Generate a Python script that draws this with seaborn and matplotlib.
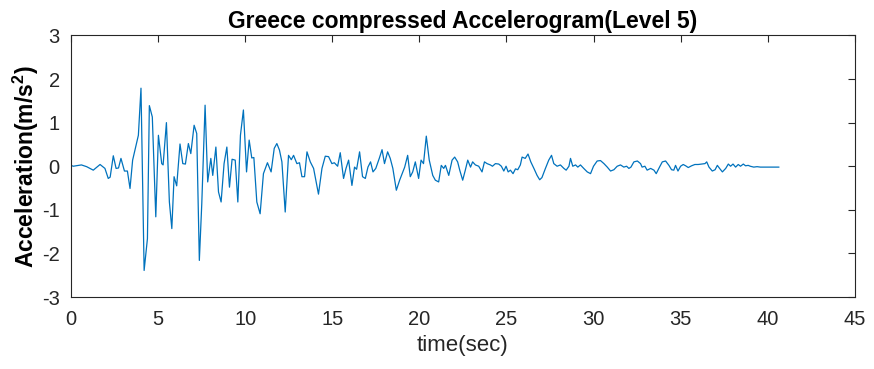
import matplotlib
matplotlib.use("Agg")
import matplotlib.pyplot as plt
import seaborn as sns
import pandas as pd

# time (s) and acceleration (m/s^2)
time_s = [0.0, 0.13, 0.6, 0.9, 1.28, 1.67, 1.95, 2.14, 2.25, 2.43, 2.59, 2.73, 2.87, 3.07, 3.24,
          3.39, 3.54, 3.74, 3.87, 4.02, 4.2, 4.39, 4.5, 4.67, 4.87, 5.02, 5.21, 5.29, 5.48, 5.65,
          5.79, 5.92, 6.07, 6.26, 6.42, 6.57, 6.74, 6.88, 7.07, 7.22, 7.37, 7.51, 7.70, 7.85, 8.03,
          8.14, 8.32, 8.47, 8.62, 8.79, 8.95, 9.1, 9.25, 9.43, 9.58, 9.73, 9.9, 10.08, 10.23, 10.38,
          10.5, 10.67, 10.86, 11.05, 11.28, 11.49, 11.67, 11.82, 11.97, 12.11, 12.3, 12.49, 12.65,
          12.78, 12.97, 13.12, 13.26, 13.41, 13.55, 13.74, 13.93, 14.21, 14.41, 14.6, 14.79, 14.98,
          15.12, 15.31, 15.46, 15.65, 15.79, 15.94, 16.13, 16.28, 16.4, 16.57, 16.74, 16.9, 17.05,
          17.2, 17.34, 17.5, 17.7, 17.86, 18.0, 18.18, 18.33, 18.48, 18.68, 18.87, 19.05, 19.16,
          19.33, 19.48, 19.62, 19.77, 19.96, 20.1, 20.24, 20.4, 20.57, 20.77, 20.92, 21.11, 21.26,
          21.4, 21.5, 21.69, 21.88, 22.03, 22.2, 22.32, 22.49, 22.64, 22.78, 22.94, 23.06, 23.22,
          23.41, 23.6, 23.74, 23.89, 24.08, 24.2, 24.37, 24.56, 24.71, 24.85, 24.98, 25.1, 25.23,
          25.38, 25.52, 25.65, 25.8, 25.9, 26.08, 26.24, 26.4, 26.59, 26.76, 26.91, 27.04, 27.23,
          27.43, 27.59, 27.72, 27.91, 28.1, 28.3, 28.43, 28.59, 28.68, 28.81, 28.97, 29.1, 29.25,
          29.44, 29.64, 29.83, 30.0, 30.21, 30.4, 30.6, 30.79, 30.98, 31.17, 31.36, 31.55, 31.74,
          31.9, 32.03, 32.15, 32.32, 32.52, 32.7, 32.79, 32.95, 33.08, 33.28, 33.47, 33.6, 33.79,
          33.95, 34.14, 34.33, 34.48, 34.61, 34.71, 34.85, 35.0, 35.15, 35.29, 35.44, 35.63, 35.82,
          36.01, 36.21, 36.4, 36.5, 36.63, 36.82, 36.98, 37.11, 37.24, 37.4, 37.59, 37.74, 37.87,
          38.01, 38.16, 38.31, 38.44, 38.6, 38.73, 38.88, 39.0, 39.2, 39.39, 39.58, 39.87, 40.65]

accel = [0.02, 0.0, 0.03, -0.01, -0.09, 0.04, -0.05, -0.28, -0.25, 0.24, -0.05, -0.04, 0.18, -0.11, -0.11,
         -0.51, 0.14, 0.48, 0.71, 1.79, -2.39, -1.66, 1.39, 1.13, -1.16, 0.71, 0.06, 0.03, 1.0, -0.82,
         -1.43, -0.24, -0.45, 0.51, 0.06, 0.05, 0.52, 0.29, 0.94, 0.75, -2.16, -0.86, 1.40, -0.36, 0.18,
         -0.21, 0.44, -0.59, -0.82, 0.06, 0.44, -0.48, 0.16, 0.14, -0.82, 0.71, 1.29, -0.13, 0.6, 0.19,
         0.2, -0.82, -1.09, -0.17, 0.08, -0.13, 0.41, 0.52, 0.37, 0.10, -1.05, 0.25, 0.15,
         0.25, 0.06, 0.08, -0.24, -0.24, 0.33, 0.10, -0.05, -0.64, -0.05, 0.23, 0.22, 0.06,
         0.08, 0.0, 0.31, -0.28, -0.05, 0.14, -0.44, -0.02, -0.07, 0.33, -0.24, -0.28, -0.02,
         0.1, -0.13, -0.05, 0.18, 0.38, 0.06, 0.33, 0.18, -0.05, -0.55, -0.32, -0.13, -0.02,
         0.25, -0.24, -0.13, 0.10, -0.28, 0.14, 0.06, 0.69, 0.14, -0.21, -0.32, -0.36, 0.02,
         -0.05, 0.02, -0.21, 0.14, 0.21, 0.1, -0.09, -0.32, -0.09, 0.14, -0.02, 0.1, 0.03,
         0.0, -0.13, 0.1, 0.06, 0.03, 0.0, 0.06, 0.05, 0.0, -0.11, 0.0, -0.13, -0.09,
         -0.17, -0.06, -0.08, 0.03, 0.21, 0.18, 0.28, 0.1, -0.06, -0.21, -0.31, -0.26, -0.06,
         0.14, 0.25, 0.06, 0.0, 0.03, -0.05, -0.09, 0.0, 0.18, 0.0, 0.03, -0.02, 0.03,
         -0.05, -0.13, -0.17, 0.0, 0.12, 0.13, 0.06, -0.02, -0.11, -0.08, 0.0, 0.03, -0.02,
         0.0, -0.05, -0.02, 0.1, 0.12, 0.06, -0.02, 0.0, -0.09, -0.05, -0.09, -0.17, -0.02,
         0.1, 0.12, 0.02, -0.08, -0.09, 0.02, -0.11, 0.0, 0.04, 0.01, -0.03, 0.01, 0.04,
         0.04, 0.05, 0.06, 0.1, -0.02, -0.11, -0.08, 0.02, -0.05, -0.13, -0.05, 0.05, 0.0,
         0.05, -0.02, 0.04, 0.0, 0.05, 0.01, 0.02, 0.0, -0.02, -0.01, -0.02, -0.02, -0.02]

x_ticks = [0, 5, 10, 15, 20, 25, 30, 35, 40, 45]
y_ticks = [-3, -2, -1, 0, 1, 2, 3]

sns.set_style("white")
plt.rcParams["font.family"] = ["Liberation Sans", "DejaVu Sans"]
plt.rcParams["axes.unicode_minus"] = False
plt.rcParams["mathtext.fontset"] = "custom"
plt.rcParams["mathtext.rm"] = "Liberation Sans:bold"
plt.rcParams["mathtext.bf"] = "Liberation Sans:bold"

df = pd.DataFrame({"time": time_s, "accel": accel})

fig = plt.figure(figsize=(8.74, 3.69), dpi=100)
ax = fig.add_axes([0.0812, 0.195, 0.8968, 0.709])
sns.lineplot(data=df, x="time", y="accel", ax=ax, color="#0072BD", linewidth=0.9,
             sort=False, estimator=None)

ax.set_xlim(0, 45)
ax.set_ylim(-3, 3)
ax.set_xticks(x_ticks)
ax.set_yticks(y_ticks)
axc = "#262626"
for s in ax.spines.values():
    s.set_visible(True)
    s.set_color(axc)
    s.set_linewidth(0.8)
ax.tick_params(direction="in", length=5, width=0.8, colors=axc, labelsize=14.5,
               top=True, right=True, labelcolor=axc)
ax.tick_params(axis="x", pad=9)
ax.tick_params(axis="y", pad=8)
ax.set_xlabel("time(sec)", fontsize=16, color=axc, labelpad=5)
ax.set_ylabel("Acceleration(m/s$^2$)", fontsize=16.5, fontweight="bold", color="black", labelpad=1)
ax.set_title("Greece compressed Accelerogram(Level 5)", fontsize=16.5, fontweight="bold",
             color="black", pad=5)

fig.savefig("out.png", dpi=100)
